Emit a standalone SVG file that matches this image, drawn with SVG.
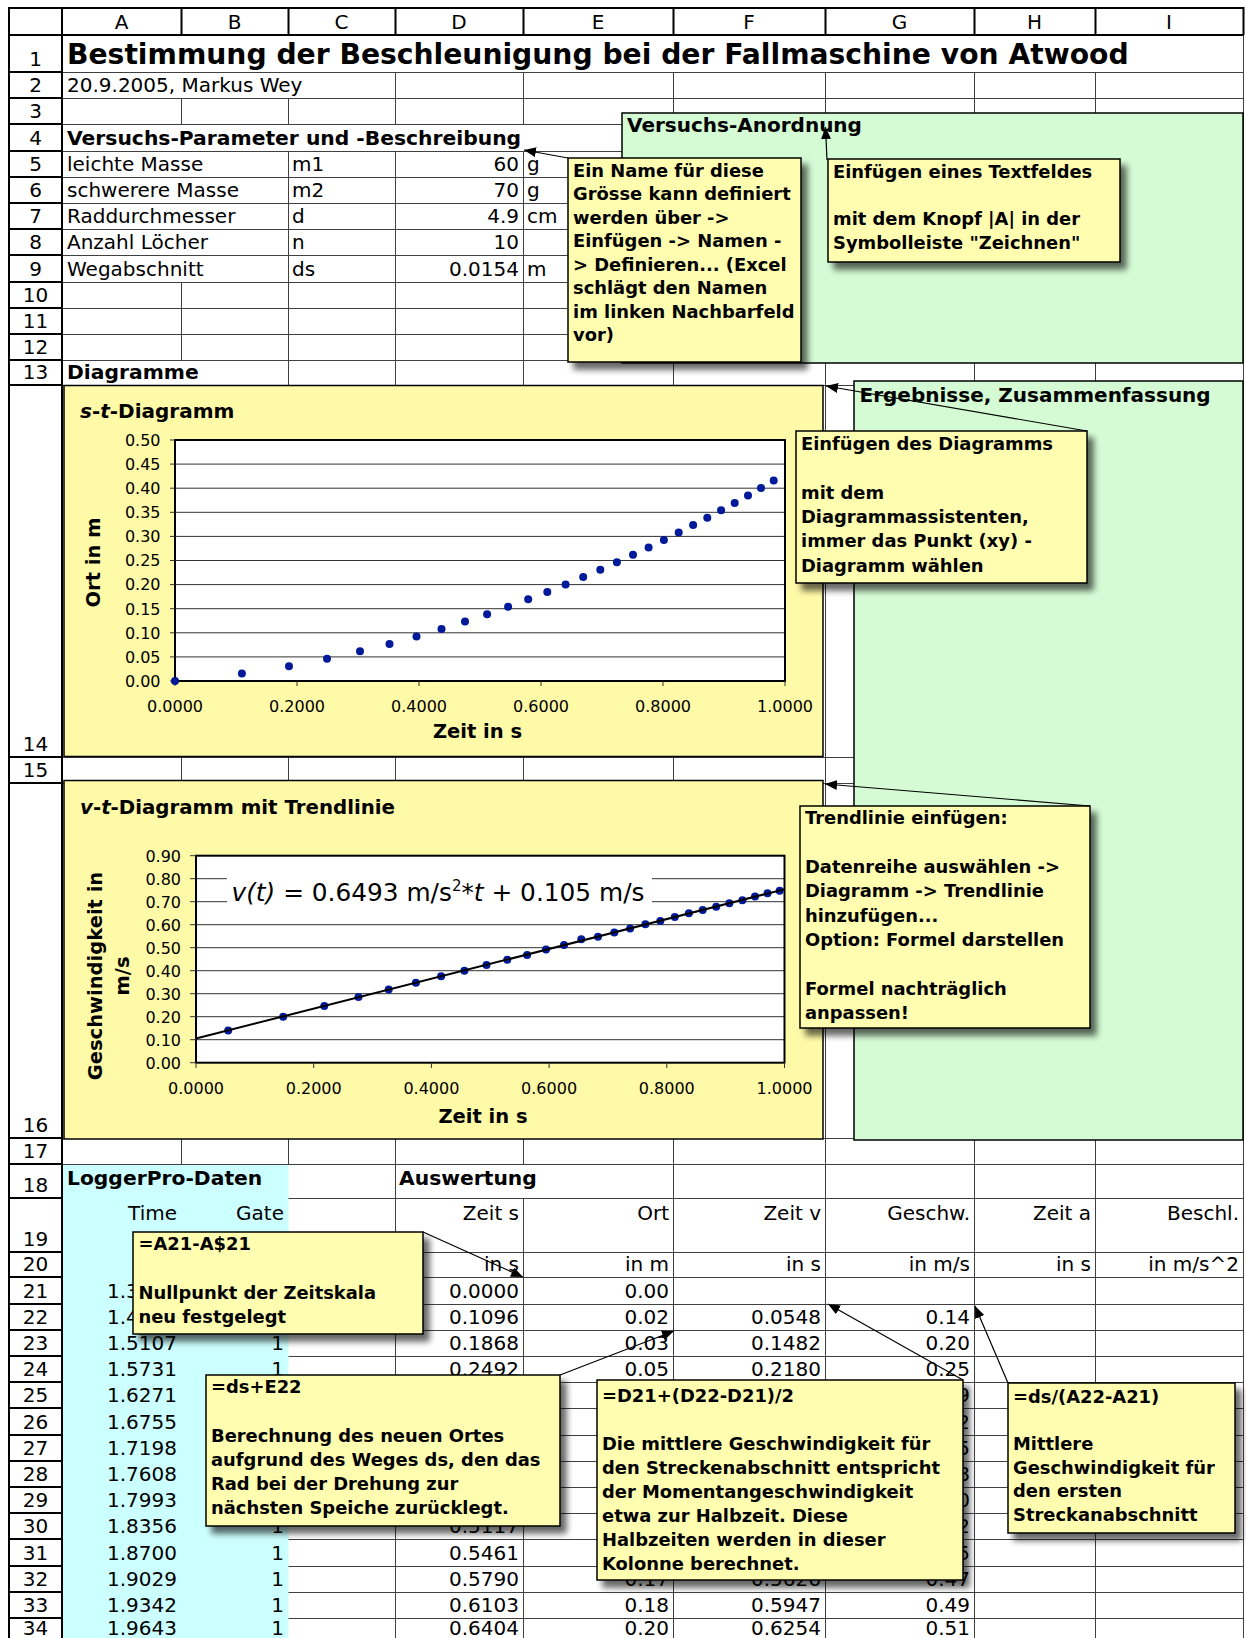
<svg xmlns="http://www.w3.org/2000/svg" width="1246" height="1638" viewBox="0 0 1246 1638">
<defs>
<style>
text{font-family:"DejaVu Sans",Verdana,sans-serif;fill:#000}
.t{font-size:20px}
.tb{font-size:20.3px;font-weight:bold}
.e{text-anchor:end}
.m{text-anchor:middle}
.n{font-size:17.9px;font-weight:bold}
.k{font-size:16px}
.ax{font-size:19.5px;font-weight:bold}
.grid{stroke:#404040;stroke-width:1;fill:none}
.hdr{stroke:#000;stroke-width:2;fill:none}
.box{fill:#FFFDB0;stroke:#000;stroke-width:1.5}
.green{fill:#D4FBD4;stroke:#000;stroke-width:1.5}
.chart{fill:#FFFAA8;stroke:#000;stroke-width:1.5}
.plot{fill:#fff;stroke:none}
.frame{fill:none;stroke:#000;stroke-width:2}
.pg{stroke:#333;stroke-width:1;fill:none}
.dot{fill:#001A99}
.arr{stroke:#000;stroke-width:1.2;fill:none;marker-end:url(#ah)}
</style>
<marker id="ah" viewBox="0 0 12 10" refX="12" refY="5" markerWidth="12" markerHeight="10" markerUnits="userSpaceOnUse" orient="auto"><path d="M0,0 L12,5 L0,10 z" fill="#000"/></marker>
<filter id="sh" x="-10%" y="-10%" width="130%" height="130%">
<feGaussianBlur in="SourceAlpha" stdDeviation="3"/>
<feOffset dx="6" dy="7"/>
<feComponentTransfer><feFuncA type="linear" slope="0.6"/></feComponentTransfer>
<feMerge><feMergeNode/><feMergeNode in="SourceGraphic"/></feMerge>
</filter>
</defs>
<rect x="0" y="0" width="1246" height="1638" fill="#fff"/>

<g id="grid">
<path class="grid" d="M62 72.5H1243M62 98.5H1243M62 124.5H1243M62 151.5H1243M62 177.5H1243M62 203.5H1243M62 229.5H1243M62 255.5H1243M62 282.5H1243M62 308.5H1243M62 334.5H1243M62 360.5H1243M62 385.5H1243M62 757.5H1243M62 783.5H1243M62 1138.5H1243M62 1164.5H1243M288 1198.5H1243M288 1252.5H1243M288 1277.5H1243M288 1304.5H1243M288 1330.5H1243M288 1356.5H1243M288 1382.5H1243M288 1408.5H1243M288 1435.5H1243M288 1461.5H1243M288 1487.5H1243M288 1513.5H1243M288 1539.5H1243M288 1566.5H1243M288 1592.5H1243M288 1618.5H1243"/>
<path class="grid" d="M181.5 98V124M181.5 282V360M181.5 385V1164M288.5 98V124M288.5 151V1164M395.5 72V124M395.5 151V1644M523.5 72V124M523.5 151V1164M523.5 1198V1644M673.5 72V1644M825.5 72V1644M974.5 72V1644M1095.5 72V1644M1243.5 35V1644"/>
<path class="hdr" d="M9 8H1244M9 35H1244M9 7V1644M62 7V1644M181.5 7V35M288.5 7V35M395.5 7V35M523.5 7V35M673.5 7V35M825.5 7V35M974.5 7V35M1095.5 7V35M1243.5 7V35M9 72H62M9 98H62M9 124H62M9 151H62M9 177H62M9 203H62M9 229H62M9 255H62M9 282H62M9 308H62M9 334H62M9 360H62M9 385H62M9 757H62M9 783H62M9 1138H62M9 1164H62M9 1198H62M9 1252H62M9 1277H62M9 1304H62M9 1330H62M9 1356H62M9 1382H62M9 1408H62M9 1435H62M9 1461H62M9 1487H62M9 1513H62M9 1539H62M9 1566H62M9 1592H62M9 1618H62"/>
</g>

<rect id="loggerpro-bg" x="63" y="1165" width="225.5" height="480" fill="#CCFFFF"/>

<g id="colheads">
<text class="t m" x="121.5" y="29">A</text>
<text class="t m" x="234.5" y="29">B</text>
<text class="t m" x="341.5" y="29">C</text>
<text class="t m" x="459" y="29">D</text>
<text class="t m" x="598" y="29">E</text>
<text class="t m" x="749" y="29">F</text>
<text class="t m" x="899.5" y="29">G</text>
<text class="t m" x="1034.5" y="29">H</text>
<text class="t m" x="1169" y="29">I</text>
</g>

<g id="rowheads">
<text class="t m" x="35.5" y="66">1</text>
<text class="t m" x="35.5" y="92">2</text>
<text class="t m" x="35.5" y="118">3</text>
<text class="t m" x="35.5" y="145">4</text>
<text class="t m" x="35.5" y="171">5</text>
<text class="t m" x="35.5" y="197">6</text>
<text class="t m" x="35.5" y="223">7</text>
<text class="t m" x="35.5" y="249">8</text>
<text class="t m" x="35.5" y="276">9</text>
<text class="t m" x="35.5" y="302">10</text>
<text class="t m" x="35.5" y="328">11</text>
<text class="t m" x="35.5" y="354">12</text>
<text class="t m" x="35.5" y="379">13</text>
<text class="t m" x="35.5" y="751">14</text>
<text class="t m" x="35.5" y="777">15</text>
<text class="t m" x="35.5" y="1132">16</text>
<text class="t m" x="35.5" y="1158">17</text>
<text class="t m" x="35.5" y="1192">18</text>
<text class="t m" x="35.5" y="1246">19</text>
<text class="t m" x="35.5" y="1271">20</text>
<text class="t m" x="35.5" y="1298">21</text>
<text class="t m" x="35.5" y="1324">22</text>
<text class="t m" x="35.5" y="1350">23</text>
<text class="t m" x="35.5" y="1376">24</text>
<text class="t m" x="35.5" y="1402">25</text>
<text class="t m" x="35.5" y="1429">26</text>
<text class="t m" x="35.5" y="1455">27</text>
<text class="t m" x="35.5" y="1481">28</text>
<text class="t m" x="35.5" y="1507">29</text>
<text class="t m" x="35.5" y="1533">30</text>
<text class="t m" x="35.5" y="1560">31</text>
<text class="t m" x="35.5" y="1586">32</text>
<text class="t m" x="35.5" y="1612">33</text>
<text class="t m" x="35.5" y="1635">34</text>
</g>

<g id="cells">
<text x="67" y="64" style="font-size:28.2px;font-weight:bold">Bestimmung der Beschleunigung bei der Fallmaschine von Atwood</text>
<text class="t" x="67" y="92">20.9.2005, Markus Wey</text>
<text class="tb" x="67" y="145">Versuchs-Parameter und -Beschreibung</text>
<text class="t" x="67" y="171">leichte Masse</text><text class="t" x="292" y="171">m1</text><text class="t e" x="519" y="171">60</text><text class="t" x="527" y="171">g</text>
<text class="t" x="67" y="197">schwerere Masse</text><text class="t" x="292" y="197">m2</text><text class="t e" x="519" y="197">70</text><text class="t" x="527" y="197">g</text>
<text class="t" x="67" y="223">Raddurchmesser</text><text class="t" x="292" y="223">d</text><text class="t e" x="519" y="223">4.9</text><text class="t" x="527" y="223">cm</text>
<text class="t" x="67" y="249">Anzahl Löcher</text><text class="t" x="292" y="249">n</text><text class="t e" x="519" y="249">10</text>
<text class="t" x="67" y="276">Wegabschnitt</text><text class="t" x="292" y="276">ds</text><text class="t e" x="519" y="276">0.0154</text><text class="t" x="527" y="276">m</text>
<text class="tb" x="67" y="379">Diagramme</text>
<text class="tb" x="67" y="1185">LoggerPro-Daten</text>
<text class="tb" x="399" y="1185">Auswertung</text>
<text class="t e" x="177" y="1220">Time</text><text class="t e" x="284" y="1220">Gate</text><text class="t e" x="519" y="1220">Zeit s</text><text class="t e" x="669" y="1220">Ort</text><text class="t e" x="821" y="1220">Zeit v</text><text class="t e" x="970" y="1220">Geschw.</text><text class="t e" x="1091" y="1220">Zeit a</text><text class="t e" x="1239" y="1220">Beschl.</text>
<text class="t e" x="519" y="1271">in s</text><text class="t e" x="669" y="1271">in m</text><text class="t e" x="821" y="1271">in s</text><text class="t e" x="970" y="1271">in m/s</text><text class="t e" x="1091" y="1271">in s</text><text class="t e" x="1239" y="1271">in m/s^2</text>
<text class="t e" x="177" y="1298">1.3239</text><text class="t e" x="519" y="1298">0.0000</text><text class="t e" x="669" y="1298">0.00</text>
<text class="t e" x="177" y="1324">1.4335</text><text class="t e" x="519" y="1324">0.1096</text><text class="t e" x="669" y="1324">0.02</text><text class="t e" x="821" y="1324">0.0548</text><text class="t e" x="970" y="1324">0.14</text>
<text class="t e" x="177" y="1350">1.5107</text><text class="t e" x="284" y="1350">1</text><text class="t e" x="519" y="1350">0.1868</text><text class="t e" x="669" y="1350">0.03</text><text class="t e" x="821" y="1350">0.1482</text><text class="t e" x="970" y="1350">0.20</text>
<text class="t e" x="177" y="1376">1.5731</text><text class="t e" x="284" y="1376">1</text><text class="t e" x="519" y="1376">0.2492</text><text class="t e" x="669" y="1376">0.05</text><text class="t e" x="821" y="1376">0.2180</text><text class="t e" x="970" y="1376">0.25</text>
<text class="t e" x="177" y="1402">1.6271</text><text class="t e" x="970" y="1402">0.29</text>
<text class="t e" x="177" y="1429">1.6755</text><text class="t e" x="970" y="1429">0.32</text>
<text class="t e" x="177" y="1455">1.7198</text><text class="t e" x="970" y="1455">0.35</text>
<text class="t e" x="177" y="1481">1.7608</text><text class="t e" x="970" y="1481">0.38</text>
<text class="t e" x="177" y="1507">1.7993</text><text class="t e" x="970" y="1507">0.40</text>
<text class="t e" x="177" y="1533">1.8356</text><text class="t e" x="284" y="1533">1</text><text class="t e" x="519" y="1533">0.5117</text><text class="t e" x="970" y="1533">0.42</text>
<text class="t e" x="177" y="1560">1.8700</text><text class="t e" x="284" y="1560">1</text><text class="t e" x="519" y="1560">0.5461</text><text class="t e" x="970" y="1560">0.45</text>
<text class="t e" x="177" y="1586">1.9029</text><text class="t e" x="284" y="1586">1</text><text class="t e" x="519" y="1586">0.5790</text><text class="t e" x="669" y="1586">0.17</text><text class="t e" x="821" y="1586">0.5626</text><text class="t e" x="970" y="1586">0.47</text>
<text class="t e" x="177" y="1612">1.9342</text><text class="t e" x="284" y="1612">1</text><text class="t e" x="519" y="1612">0.6103</text><text class="t e" x="669" y="1612">0.18</text><text class="t e" x="821" y="1612">0.5947</text><text class="t e" x="970" y="1612">0.49</text>
<text class="t e" x="177" y="1635">1.9643</text><text class="t e" x="284" y="1635">1</text><text class="t e" x="519" y="1635">0.6404</text><text class="t e" x="669" y="1635">0.20</text><text class="t e" x="821" y="1635">0.6254</text><text class="t e" x="970" y="1635">0.51</text>
</g>

<g id="chart-st">
<rect class="chart" x="64" y="385.5" width="759" height="371"/>
<text class="tb" x="80" y="418" style="font-size:20px"><tspan font-style="italic">s</tspan>-<tspan font-style="italic">t</tspan>-Diagramm</text>
<rect class="plot" x="175" y="440" width="610" height="241"/>
<path class="pg" d="M175 656.9H785M175 632.8H785M175 608.7H785M175 584.6H785M175 560.5H785M175 536.4H785M175 512.3H785M175 488.2H785M175 464.1H785"/>
<rect class="frame" x="175" y="440" width="610" height="241"/>
<path class="pg" d="M170 681H175M170 656.9H175M170 632.8H175M170 608.7H175M170 584.6H175M170 560.5H175M170 536.4H175M170 512.3H175M170 488.2H175M170 464.1H175M170 440H175M175 681V686M297 681V686M419 681V686M541 681V686M663 681V686M785 681V686"/>
<text class="k e" x="160.5" y="686.8">0.00</text><text class="k e" x="160.5" y="662.7">0.05</text><text class="k e" x="160.5" y="638.6">0.10</text><text class="k e" x="160.5" y="614.5">0.15</text><text class="k e" x="160.5" y="590.4">0.20</text><text class="k e" x="160.5" y="566.3">0.25</text><text class="k e" x="160.5" y="542.2">0.30</text><text class="k e" x="160.5" y="518.1">0.35</text><text class="k e" x="160.5" y="494">0.40</text><text class="k e" x="160.5" y="469.9">0.45</text><text class="k e" x="160.5" y="445.8">0.50</text>
<text class="k m" x="175" y="712">0.0000</text><text class="k m" x="297" y="712">0.2000</text><text class="k m" x="419" y="712">0.4000</text><text class="k m" x="541" y="712">0.6000</text><text class="k m" x="663" y="712">0.8000</text><text class="k m" x="785" y="712">1.0000</text>
<text class="ax m" x="477.5" y="738">Zeit in s</text>
<text class="ax m" x="93" y="569.5" transform="rotate(-90 93 562.5)">Ort in m</text>
<g class="dot">
<circle cx="175" cy="681" r="4"/><circle cx="241.9" cy="673.6" r="4"/><circle cx="289" cy="666.2" r="4"/><circle cx="327" cy="658.7" r="4"/><circle cx="360" cy="651.3" r="4"/><circle cx="389.5" cy="643.9" r="4"/><circle cx="416.5" cy="636.5" r="4"/><circle cx="441.5" cy="629" r="4"/><circle cx="465" cy="621.6" r="4"/><circle cx="487.1" cy="614.2" r="4"/><circle cx="508.1" cy="606.8" r="4"/><circle cx="528.2" cy="599.3" r="4"/><circle cx="547.3" cy="591.9" r="4"/><circle cx="565.6" cy="584.5" r="4"/><circle cx="583.2" cy="577.1" r="4"/><circle cx="600.3" cy="569.7" r="4"/><circle cx="616.9" cy="562.2" r="4"/><circle cx="633" cy="554.8" r="4"/><circle cx="648.6" cy="547.4" r="4"/><circle cx="663.9" cy="540" r="4"/><circle cx="678.7" cy="532.5" r="4"/><circle cx="693.1" cy="525.1" r="4"/><circle cx="707.3" cy="517.7" r="4"/><circle cx="721.1" cy="510.3" r="4"/><circle cx="734.7" cy="502.9" r="4"/><circle cx="748" cy="495.4" r="4"/><circle cx="761" cy="488" r="4"/><circle cx="773.7" cy="480.6" r="4"/>
</g>
</g>

<g id="chart-vt">
<rect class="chart" x="64" y="780.5" width="759" height="358.5"/>
<text class="tb" x="80" y="814" style="font-size:19.8px"><tspan font-style="italic">v</tspan>-<tspan font-style="italic">t</tspan>-Diagramm mit Trendlinie</text>
<rect class="plot" x="196" y="855.7" width="588.5" height="207"/>
<path class="pg" d="M196 1039.7H784.5M196 1016.7H784.5M196 993.7H784.5M196 970.7H784.5M196 947.7H784.5M196 924.7H784.5M196 901.7H784.5M196 878.7H784.5"/>
<rect x="227" y="864" width="425" height="47" fill="#fff"/>
<rect class="frame" x="196" y="855.7" width="588.5" height="207"/>
<path class="pg" d="M190 1062.7H196M190 1039.7H196M190 1016.7H196M190 993.7H196M190 970.7H196M190 947.7H196M190 924.7H196M190 901.7H196M190 878.7H196M190 855.7H196M196 1062.7V1068M313.7 1062.7V1068M431.4 1062.7V1068M549.1 1062.7V1068M666.8 1062.7V1068M784.5 1062.7V1068"/>
<text class="k e" x="181" y="1068.5">0.00</text><text class="k e" x="181" y="1045.5">0.10</text><text class="k e" x="181" y="1022.5">0.20</text><text class="k e" x="181" y="999.5">0.30</text><text class="k e" x="181" y="976.5">0.40</text><text class="k e" x="181" y="953.5">0.50</text><text class="k e" x="181" y="930.5">0.60</text><text class="k e" x="181" y="907.5">0.70</text><text class="k e" x="181" y="884.5">0.80</text><text class="k e" x="181" y="861.5">0.90</text>
<text class="k m" x="196" y="1094">0.0000</text><text class="k m" x="313.7" y="1094">0.2000</text><text class="k m" x="431.4" y="1094">0.4000</text><text class="k m" x="549.1" y="1094">0.6000</text><text class="k m" x="666.8" y="1094">0.8000</text><text class="k m" x="784.5" y="1094">1.0000</text>
<text class="ax m" x="483" y="1123">Zeit in s</text>
<text class="ax m" x="97" y="981" transform="rotate(-90 97 976)">Geschwindigkeit in</text>
<text class="ax m" x="123.3" y="982" transform="rotate(-90 123.3 976)">m/s</text>
<text x="231.5" y="900.5" style="font-size:24.8px"><tspan font-style="italic">v(t)</tspan> = 0.6493 m/s<tspan dy="-10" style="font-size:15px">2</tspan><tspan dy="10">*</tspan><tspan font-style="italic">t</tspan> + 0.105 m/s</text>
<g class="dot">
<circle cx="228.2" cy="1030.4" r="4"/><circle cx="283.2" cy="1016.8" r="4"/><circle cx="324.3" cy="1005.9" r="4"/><circle cx="358.5" cy="997.1" r="4"/><circle cx="388.7" cy="989.5" r="4"/><circle cx="415.9" cy="982.8" r="4"/><circle cx="441.1" cy="976.3" r="4"/><circle cx="464.4" cy="970.7" r="4"/><circle cx="486.5" cy="965.1" r="4"/><circle cx="507.3" cy="959.7" r="4"/><circle cx="527.1" cy="955" r="4"/><circle cx="546" cy="949.5" r="4"/><circle cx="564" cy="945" r="4"/><circle cx="581.3" cy="939.3" r="4"/><circle cx="598" cy="936.7" r="4"/><circle cx="614.3" cy="932.5" r="4"/><circle cx="630.1" cy="928.5" r="4"/><circle cx="645.4" cy="924.3" r="4"/><circle cx="660.3" cy="921" r="4"/><circle cx="674.8" cy="917" r="4"/><circle cx="688.9" cy="913.2" r="4"/><circle cx="702.7" cy="910" r="4"/><circle cx="716.2" cy="906.7" r="4"/><circle cx="729.4" cy="903.2" r="4"/><circle cx="742.4" cy="900.2" r="4"/><circle cx="755" cy="896.4" r="4"/><circle cx="767.5" cy="893.2" r="4"/><circle cx="779.7" cy="890.8" r="4"/>
</g>
<line x1="196" y1="1038.5" x2="784.5" y2="889.2" stroke="#000" stroke-width="2"/>
</g>

<g id="versuchs-anordnung">
<rect class="green" x="622" y="113" width="621" height="250"/>
<text class="tb" x="627" y="131.5" style="font-size:20px">Versuchs-Anordnung</text>
</g>

<g id="ergebnisse">
<rect class="green" x="854" y="381" width="389" height="759"/>
<text class="tb" x="859.5" y="401.5" style="font-size:20px">Ergebnisse, Zusammenfassung</text>
</g>

<g id="note-name">
<rect class="box" filter="url(#sh)" x="568" y="158" width="233" height="204"/>
<text class="n"><tspan x="573" y="176.5">Ein Name für diese</tspan><tspan x="573" y="200">Grösse kann definiert</tspan><tspan x="573" y="223.5">werden über -&gt;</tspan><tspan x="573" y="247">Einfügen -&gt; Namen -</tspan><tspan x="573" y="270.5">&gt; Definieren... (Excel</tspan><tspan x="573" y="294">schlägt den Namen</tspan><tspan x="573" y="317.5">im linken Nachbarfeld</tspan><tspan x="573" y="341">vor)</tspan></text>
</g>

<g id="note-textfeld">
<rect class="box" filter="url(#sh)" x="828" y="159" width="292" height="103"/>
<text class="n"><tspan x="833" y="177.5">Einfügen eines Textfeldes</tspan><tspan x="833" y="225">mit dem Knopf |A| in der</tspan><tspan x="833" y="249">Symbolleiste "Zeichnen"</tspan></text>
</g>

<g id="note-diagramm">
<rect class="box" filter="url(#sh)" x="796" y="431" width="291" height="152"/>
<text class="n"><tspan x="801" y="450">Einfügen des Diagramms</tspan><tspan x="801" y="498.6">mit dem</tspan><tspan x="801" y="522.9">Diagrammassistenten,</tspan><tspan x="801" y="547.2">immer das Punkt (xy) -</tspan><tspan x="801" y="571.5">Diagramm wählen</tspan></text>
</g>

<g id="note-trendlinie">
<rect class="box" filter="url(#sh)" x="800" y="806" width="290" height="222"/>
<text class="n"><tspan x="805" y="824.3">Trendlinie einfügen:</tspan><tspan x="805" y="873">Datenreihe auswählen -&gt;</tspan><tspan x="805" y="897.4">Diagramm -&gt; Trendlinie</tspan><tspan x="805" y="921.8">hinzufügen...</tspan><tspan x="805" y="946.2">Option: Formel darstellen</tspan><tspan x="805" y="995">Formel nachträglich</tspan><tspan x="805" y="1019.4">anpassen!</tspan></text>
</g>

<g id="note-a21">
<rect class="box" filter="url(#sh)" x="133" y="1232" width="290" height="102"/>
<text class="n"><tspan x="138.5" y="1250">=A21-A$21</tspan><tspan x="138.5" y="1298.5">Nullpunkt der Zeitskala</tspan><tspan x="138.5" y="1322.7">neu festgelegt</tspan></text>
</g>

<g id="note-ds-e22">
<rect class="box" filter="url(#sh)" x="206" y="1375" width="354" height="151"/>
<text class="n"><tspan x="211" y="1393.3">=ds+E22</tspan><tspan x="211" y="1441.7">Berechnung des neuen Ortes</tspan><tspan x="211" y="1465.9">aufgrund des Weges ds, den das</tspan><tspan x="211" y="1490.1">Rad bei der Drehung zur</tspan><tspan x="211" y="1514.3">nächsten Speiche zurücklegt.</tspan></text>
</g>

<g id="note-d21">
<rect class="box" filter="url(#sh)" x="597" y="1380" width="366" height="200"/>
<text class="n"><tspan x="602" y="1401.7">=D21+(D22-D21)/2</tspan><tspan x="602" y="1449.8">Die mittlere Geschwindigkeit für</tspan><tspan x="602" y="1473.9">den Streckenabschnitt entspricht</tspan><tspan x="602" y="1497.9">der Momentangeschwindigkeit</tspan><tspan x="602" y="1521.9">etwa zur Halbzeit. Diese</tspan><tspan x="602" y="1546">Halbzeiten werden in dieser</tspan><tspan x="602" y="1570">Kolonne berechnet.</tspan></text>
</g>

<g id="note-a22">
<rect class="box" filter="url(#sh)" x="1008" y="1383" width="227" height="150"/>
<text class="n"><tspan x="1013" y="1403.3">=ds/(A22-A21)</tspan><tspan x="1013" y="1450.3">Mittlere</tspan><tspan x="1013" y="1473.8">Geschwindigkeit für</tspan><tspan x="1013" y="1497.3">den ersten</tspan><tspan x="1013" y="1520.8">Streckanabschnitt</tspan></text>
</g>

<g id="connectors">
<path class="arr" d="M568 158L524 150"/>
<path class="arr" d="M827 160L825.5 127"/>
<path class="arr" d="M1087 431L826 386"/>
<path class="arr" d="M1090 806L825 784"/>
<path class="arr" d="M423 1232L523 1277"/>
<path class="arr" d="M560 1375L674 1331"/>
<path class="arr" d="M963 1380L828 1304"/>
<path class="arr" d="M1008 1383L975 1306"/>
</g>
</svg>
